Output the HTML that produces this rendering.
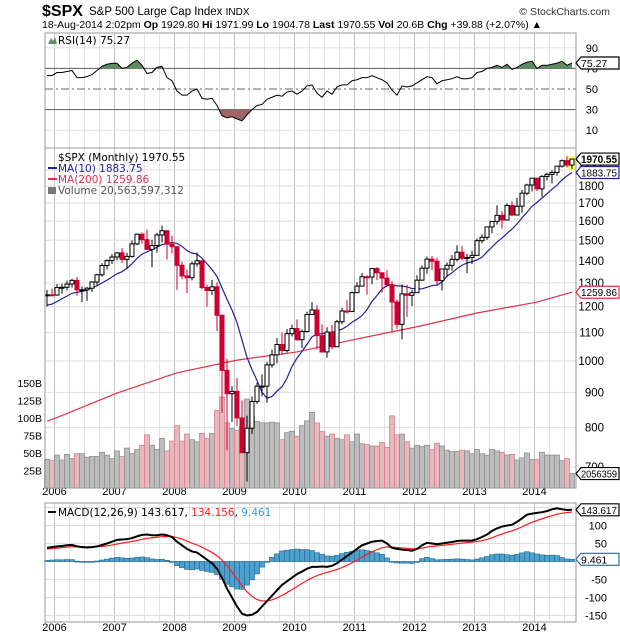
<!DOCTYPE html>
<html><head><meta charset="utf-8"><style>
html,body{margin:0;padding:0;background:#fff;}
svg{display:block;font-family:"Liberation Sans",sans-serif;}
</style></head><body>
<svg id="c" width="620" height="639" viewBox="0 0 620 639" xmlns="http://www.w3.org/2000/svg">
<text x="42" y="16" font-size="16" font-weight="bold">$SPX</text>
<text x="89" y="15" font-size="11.5">S&amp;P 500 Large Cap Index <tspan font-size="10">INDX</tspan></text>
<text x="610" y="15" font-size="10.5" text-anchor="end" fill="#333">© StockCharts.com</text>
<text x="42" y="28" font-size="10.5">18-Aug-2014 2:02pm  <tspan font-weight="bold">Op</tspan> 1929.80  <tspan font-weight="bold">Hi</tspan> 1971.99  <tspan font-weight="bold">Lo</tspan> 1904.78  <tspan font-weight="bold">Last</tspan> 1970.55  <tspan font-weight="bold">Vol</tspan> 20.6B  <tspan font-weight="bold">Chg</tspan> +39.88 (+2.07%) ▲</text>
<g id="g"></g>
</svg>
<script>
const preCloses=[1204,1181,1157,1192,1191,1234,1220,1229,1207];
const closes=[1249,1248,
1280,1281,1295,1311,1270,1270,1277,1304,1336,1378,1401,1418,
1438,1407,1421,1482,1531,1503,1455,1474,1527,1549,1481,1468,
1379,1331,1323,1386,1400,1280,1267,1283,1166,969,896,903,
826,735,798,873,919,919,987,1021,1057,1036,1096,1115,
1074,1104,1169,1187,1089,1031,1102,1049,1141,1183,1181,1258,
1286,1327,1326,1364,1345,1321,1292,1219,1131,1253,1247,1258,
1312,1366,1408,1398,1310,1362,1379,1407,1441,1412,1416,1426,
1498,1515,1569,1598,1631,1606,1686,1633,1682,1757,1806,1848,
1783,1859,1872,1884,1924,1960,1931,1970.55];
const highs=[1270,1275,
1295,1297,1310,1318,1326,1284,1283,1307,1340,1389,1407,1431,
1441,1461,1438,1499,1535,1540,1555,1503,1538,1576,1545,1524,
1471,1396,1359,1397,1440,1404,1292,1313,1303,1168,1007,919,
944,876,832,888,930,956,997,1039,1080,1101,1113,1130,
1150,1112,1180,1219,1206,1131,1120,1129,1148,1196,1227,1263,
1303,1344,1333,1364,1371,1345,1357,1308,1230,1293,1292,1270,
1334,1378,1420,1422,1415,1363,1392,1427,1475,1471,1434,1448,
1510,1531,1570,1598,1687,1654,1698,1710,1730,1776,1814,1849,
1851,1867,1884,1898,1925,1968,1991,1972];
const lows=[1201,1246,
1245,1253,1268,1280,1245,1219,1224,1261,1290,1327,1360,1385,
1403,1389,1364,1416,1476,1484,1454,1370,1439,1489,1406,1435,
1270,1316,1256,1311,1373,1272,1200,1248,1106,840,741,815,
804,734,667,783,866,888,869,978,992,1020,1029,1086,
1071,1044,1101,1170,1040,1028,1011,1040,1049,1131,1173,1187,
1262,1289,1249,1294,1312,1258,1282,1101,1114,1075,1159,1203,
1258,1310,1341,1357,1291,1267,1326,1355,1397,1403,1343,1385,
1426,1485,1502,1536,1581,1560,1604,1627,1633,1646,1746,1768,
1770,1737,1834,1815,1863,1915,1916,1905];
const volumesB=[41,39,
47,40,48,42,49,49,44,45,45,51,47,42,
53,45,57,49,55,61,76,61,55,71,53,67,
89,67,77,69,66,78,71,78,111,130,93,85,
82,88,127,103,95,93,93,94,93,69,79,81,
74,89,96,108,93,81,74,77,71,69,76,66,
77,63,62,60,60,65,58,103,76,77,66,57,
61,59,61,55,64,60,54,52,52,54,53,49,
55,49,47,55,53,51,47,48,40,43,50,41,
41,51,47,47,47,39,42,20.6];
const ma200Idx=[0,2,14,26,38,50,62,74,86,98,105];
const ma200Val=[817,827,898,961,1003,1031,1077,1122,1175,1219,1259.86];
const rsi=[63,63,
66,66,67,68,61,61,62,64,68,72,74,75,
75,70,71,75,78,73,65,66,71,72,61,58,
48,44,44,48,50,41,40,41,34,24,22,23,
21,19,25,30,34,35,40,42,44,43,47,48,
45,48,53,54,46,42,48,45,52,54,54,58,
59,61,61,63,61,59,56,49,44,53,52,53,
56,59,62,61,55,58,59,60,62,60,60,61,
66,67,70,71,73,71,74,69,71,74,76,77,
70,73,73,74,75,77,73,75.27];
const macd=[38,40,
42,43,45,46,42,40,39,40,42,46,50,55,
60,61,62,65,70,74,75,73,73,75,73,68,
55,45,35,28,25,15,5,-5,-20,-45,-75,-100,
-125,-145,-150,-148,-140,-125,-110,-95,-80,-65,-55,-45,
-35,-28,-20,-15,-15,-14,-15,-12,-5,5,15,25,
35,45,50,55,57,58,50,38,35,33,32,30,
35,45,52,50,48,50,52,54,57,58,58,58,
62,68,75,85,92,97,100,102,110,120,130,133,
135,137,140,145,148,145,143,143.617];
const years=["2006","2007","2008","2009","2010","2011","2012","2013","2014"];
const priceTicks=[1900,1800,1700,1600,1500,1400,1300,1200,1100,1000,900,800,700];
const volTicks=[150,125,100,75,50,25];
const rsiTicks=[90,70,50,30,10];
const macdTicks=[150,100,50,0,-50,-100,-150];

const NS="http://www.w3.org/2000/svg";
const L=45,R=576;
const X=i=>47+5*i;
const yearIdx=k=>2+12*k;
const PY=p=>361-297.7*Math.log(p/1000);
const VY=v=>488-0.7*v;
const RY=v=>89-(v-50)*1.03;
const MY=v=>561.5-0.36*v;
const g=document.getElementById('g');
function el(t,a,p){const e=document.createElementNS(NS,t);for(const k in a)e.setAttribute(k,a[k]);(p||g).appendChild(e);return e;}
function txt(x,y,s,a){const e=el('text',Object.assign({x:x,y:y,'font-size':11},a||{}));e.textContent=s;return e;}

const all=preCloses.concat(closes);
const ma10=closes.map((c,i)=>{let s=0;for(let k=0;k<10;k++)s+=all[i+9-k];return s/10;});
const sig=[];macd.forEach((m,i)=>{sig.push(i===0?m-3:sig[i-1]+(m-sig[i-1])*0.2);});
const hist=macd.map((m,i)=>m-sig[i]);
const prev=i=>i===0?1247:closes[i-1];

const panels=[[33,148,'rsi-panel'],[148,488,'price-panel'],[503,622,'macd-panel']];
panels.forEach(p=>{
  for(let q=0;q<40;q++){const idx=-1+3*q;const x=X(idx)-2.5;if(x<L||x>R)continue;
    const l=el('line',{x1:x,x2:x,y1:p[0],y2:p[1],stroke:(q%4===1)?'#c4c4c4':'#e4e4e4','stroke-width':1});
    
    }
});
priceTicks.forEach(t=>{const y=PY(t);
  const l=el('line',{x1:L,x2:R,y1:y,y2:y,stroke:'#dedede'});
  
  
  const tx=txt(604,y+4,String(t),{'text-anchor':'end','font-size':11.5});
  
  });
[10,30,50,70,90].forEach(t=>{const y=RY(t);
  const l=el('line',{x1:L,x2:R,y1:y,y2:y,stroke:(t===30||t===70)?'#555':(t===50?'#666':'#e2e2e2'),'stroke-dasharray':t===50?'8,3,2,3':'none'});
  
  });
rsiTicks.forEach(t=>{const tx=txt(598,RY(t)+4,String(t),{'text-anchor':'end','font-size':11});
  
  });
macdTicks.forEach(t=>{const y=MY(t);
  const l=el('line',{x1:L,x2:R,y1:y,y2:y,stroke:'#dedede'});
  
  
  if(t!==150&&t!==0){const tx=txt(607,y+4,String(t),{'text-anchor':'end','font-size':11});
  
  }});
volTicks.forEach(t=>{const tx=txt(42,VY(t)+4,t+'B',{'text-anchor':'end','font-size':10.5});
  
  });
years.forEach((s,k)=>{const x=X(yearIdx(k))-2.5;
  [495,631].forEach(yy=>{const tx=txt(Math.max(x,53),yy,s,{'text-anchor':'middle','font-size':11});
  
  });});

volumesB.forEach((v,i)=>{const dn=closes[i]<prev(i);
  const r=el('rect',{x:X(i)-2.5,y:VY(v),width:5,height:488-VY(v),fill:dn?'#e8b8be':'#bdbdbd',stroke:dn?'#d4808c':'#8e8e8e','stroke-width':0.8});
  
  });

const m2=el('polyline',{points:ma200Idx.map((ix,k)=>X(ix)+','+PY(ma200Val[k])).join(' '),fill:'none',stroke:'#e0304a','stroke-width':1.2});


const m1=el('polyline',{points:ma10.map((v,i)=>X(i)+','+PY(v)).join(' '),fill:'none',stroke:'#22229a','stroke-width':1.2});



const lastHl=el('rect',{x:X(105)-4,y:PY(1975)-2,width:8,height:PY(1900)-PY(1975)+2,fill:'#ffff66'});


closes.forEach((c,i)=>{const o=prev(i);const dn=c<o;const col=dn?'#cc0033':'#000';
  const w=el('line',{x1:X(i),x2:X(i),y1:PY(highs[i]),y2:PY(lows[i]),stroke:col,'stroke-width':1});
  
  
  const t=PY(Math.max(o,c)),b=PY(Math.min(o,c));
  const r=el('rect',{x:X(i)-2,y:t,width:4,height:Math.max(1,b-t),fill:dn?'#cc0033':'#fff',stroke:col,'stroke-width':1});
  
  });

const rpts=rsi.map((v,i)=>X(i)+','+RY(v)).join(' ');
const defs=el('defs',{});
const c1=el('clipPath',{id:'above'},defs);el('rect',{x:L,y:33,width:R-L,height:RY(70)-33},c1);
const c2=el('clipPath',{id:'below'},defs);el('rect',{x:L,y:RY(30),width:R-L,height:148-RY(30)},c2);
const fa=el('polygon',{points:X(0)+','+RY(70)+' '+rpts+' '+X(105)+','+RY(70),fill:'#5f8c5f','clip-path':'url(#above)'});


const fb=el('polygon',{points:X(0)+','+RY(30)+' '+rpts+' '+X(105)+','+RY(30),fill:'#a26464','clip-path':'url(#below)'});


const rl=el('polyline',{points:rpts,fill:'none',stroke:'#000','stroke-width':1});



hist.forEach((h,i)=>{const y0=MY(0),y1=MY(h);
  const r=el('rect',{x:X(i)-2.5,y:Math.min(y0,y1),width:5,height:Math.max(0.8,Math.abs(y1-y0)),fill:'#4ea1cf',stroke:'#2a6f98','stroke-width':0.7});
  
  });
const sl=el('polyline',{points:sig.map((v,i)=>X(i)+','+MY(v)).join(' '),fill:'none',stroke:'#ff1a1a','stroke-width':1.2});


const ml=el('polyline',{points:macd.map((v,i)=>X(i)+','+MY(v)).join(' '),fill:'none',stroke:'#000','stroke-width':2});



panels.forEach(p=>{const r=el('rect',{x:L,y:p[0],width:R-L,height:p[1]-p[0],fill:'none',stroke:'#999','stroke-width':1});
  
  });

function leg(x,y,s,col,name){const t=txt(x,y,s,{'font-size':10.5,fill:col,'font-family':'DejaVu Sans, sans-serif'});
  
  return t;}
leg(58,44,'RSI(14) 75.27','#000','rsi-legend');
el('path',{d:'M48 44 L51 38 L53 41 L55 37 L57 44 Z',fill:'#5f8c5f'});
leg(58,161,'$SPX (Monthly) 1970.55','#000','price-legend');
leg(58,172,'MA(10) 1883.75','#22229a','ma10-legend');
el('rect',{x:48,y:167,width:9,height:2,fill:'#22229a'});
leg(58,183,'MA(200) 1259.86','#e0304a','ma200-legend');
el('rect',{x:48,y:178,width:9,height:2,fill:'#e0304a'});
leg(58,194,'Volume 20,563,597,312','#555','volume-legend');
el('rect',{x:48,y:187,width:8,height:7,fill:'#777'});
const ml2=txt(58,516,'',{'font-size':10.5,'font-family':'DejaVu Sans, sans-serif'});


ml2.innerHTML='MACD(12,26,9) 143.617, <tspan fill="#ff1a1a">134.156</tspan>, <tspan fill="#3a9ad0">9.461</tspan>';
el('rect',{x:48,y:511,width:8,height:2,fill:'#000'});

function tag(y,s,col,name,bold){const e=el('path',{d:`M${R} ${y} L${R+5} ${y-6} L619 ${y-6} L619 ${y+6} L${R+5} ${y+6} Z`,fill:'#fff',stroke:col,'stroke-width':1.2});
  
  
  const a={'font-size':bold?11:10.5,'font-weight':bold?'bold':'normal',fill:'#000'};
  if(s.length>=7){a.textLength=36;a.lengthAdjust='spacingAndGlyphs';}
  const t=txt(581,y+4,s,a);
  
  }
tag(PY(ma10[105]),ma10[105].toFixed(2),'#22229a','ma10');
tag(PY(closes[105]),closes[105].toFixed(2),'#000','last-price',true);
tag(PY(ma200Val[ma200Val.length-1]),ma200Val[ma200Val.length-1].toFixed(2),'#e0304a','ma200');
tag(VY(volumesB[105]),'2056359','#000','volume');
tag(RY(rsi[105]),rsi[105].toFixed(2),'#000','rsi');
tag(MY(macd[105]),macd[105].toFixed(3),'#000','macd');
tag(MY(hist[105]),'9.461','#2a6f98','macd-hist');
</script>
</body></html>
